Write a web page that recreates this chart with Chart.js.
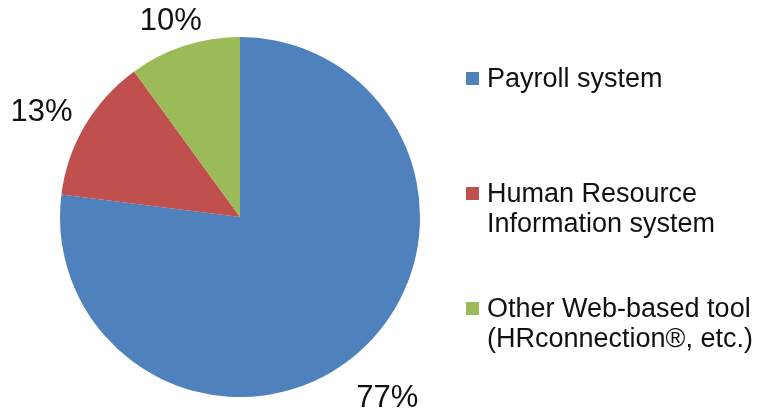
<!DOCTYPE html>
<html lang="en">
<head>
    <meta charset="UTF-8">
    <title>Payroll / HR systems</title>
    <style>
        body {
            margin: 0;
            background: #ffffff;
        }
        .chart-container {
            position: relative;
            width: 758px;
            height: 412px;
        }
    </style>
    <script src="https://cdn.jsdelivr.net/npm/chart.js"></script>
</head>
<body>
    <div class="chart-container">
        <canvas id="systemChart" width="758" height="412"></canvas>
    </div>

    <script>
        // Data
        const systems = [
            ['Payroll system'],
            ['Human Resource', 'Information system'],
            ['Other Web-based tool', '(HRconnection®, etc.)']
        ];
        const shares = [77, 13, 10];
        const sliceColors = ['#4F81BD', '#C0504D', '#9BBB59'];

        const FONT = '"Liberation Sans", Arial, sans-serif';

        // Percent labels just outside each slice
        const outsideLabels = {
            id: 'outsideLabels',
            afterDatasetsDraw(chart) {
                const ctx = chart.ctx;
                const values = chart.data.datasets[0].data;
                const total = values.reduce((a, b) => a + b, 0);
                ctx.save();
                ctx.font = '31px ' + FONT;
                ctx.fillStyle = '#111111';
                ctx.textAlign = 'center';
                ctx.textBaseline = 'middle';
                chart.getDatasetMeta(0).data.forEach((arc, i) => {
                    const p = arc.getProps(['x', 'y', 'startAngle', 'endAngle', 'outerRadius'], true);
                    const mid = (p.startAngle + p.endAngle) / 2;
                    const text = Math.round(values[i] / total * 100) + '%';
                    const w = ctx.measureText(text).width;
                    const h = 30;
                    const cos = Math.cos(mid), sin = Math.sin(mid);
                    const d = p.outerRadius + 14 + Math.abs(cos) * w / 2 + Math.abs(sin) * h / 2;
                    ctx.fillText(text, p.x + cos * d - 2, p.y + sin * d + 12);
                });
                ctx.restore();
            }
        };

        // Legend on the right, one square per slice
        const sideLegend = {
            id: 'sideLegend',
            afterDraw(chart) {
                const ctx = chart.ctx;
                const colors = chart.data.datasets[0].backgroundColor;
                ctx.save();
                ctx.font = '27px ' + FONT;
                ctx.textBaseline = 'alphabetic';
                chart.data.labels.forEach((lines, i) => {
                    const base = 87 + i * 115;
                    ctx.fillStyle = colors[i];
                    ctx.fillRect(466, base - 15, 13, 13);
                    ctx.fillStyle = '#111111';
                    lines.forEach((line, j) => {
                        ctx.fillText(line, 487, base + j * 30);
                    });
                });
                ctx.restore();
            }
        };

        const ctx = document.getElementById('systemChart').getContext('2d');
        const systemChart = new Chart(ctx, {
            type: 'pie',
            data: {
                labels: systems,
                datasets: [{
                    data: shares,
                    backgroundColor: sliceColors,
                    borderWidth: 0
                }]
            },
            options: {
                responsive: false,
                animation: false,
                layout: {
                    padding: { top: 37, bottom: 15, left: 60, right: 338 }
                },
                plugins: {
                    legend: { display: false },
                    tooltip: { enabled: false }
                }
            },
            plugins: [outsideLabels, sideLegend]
        });
    </script>
</body>
</html>
